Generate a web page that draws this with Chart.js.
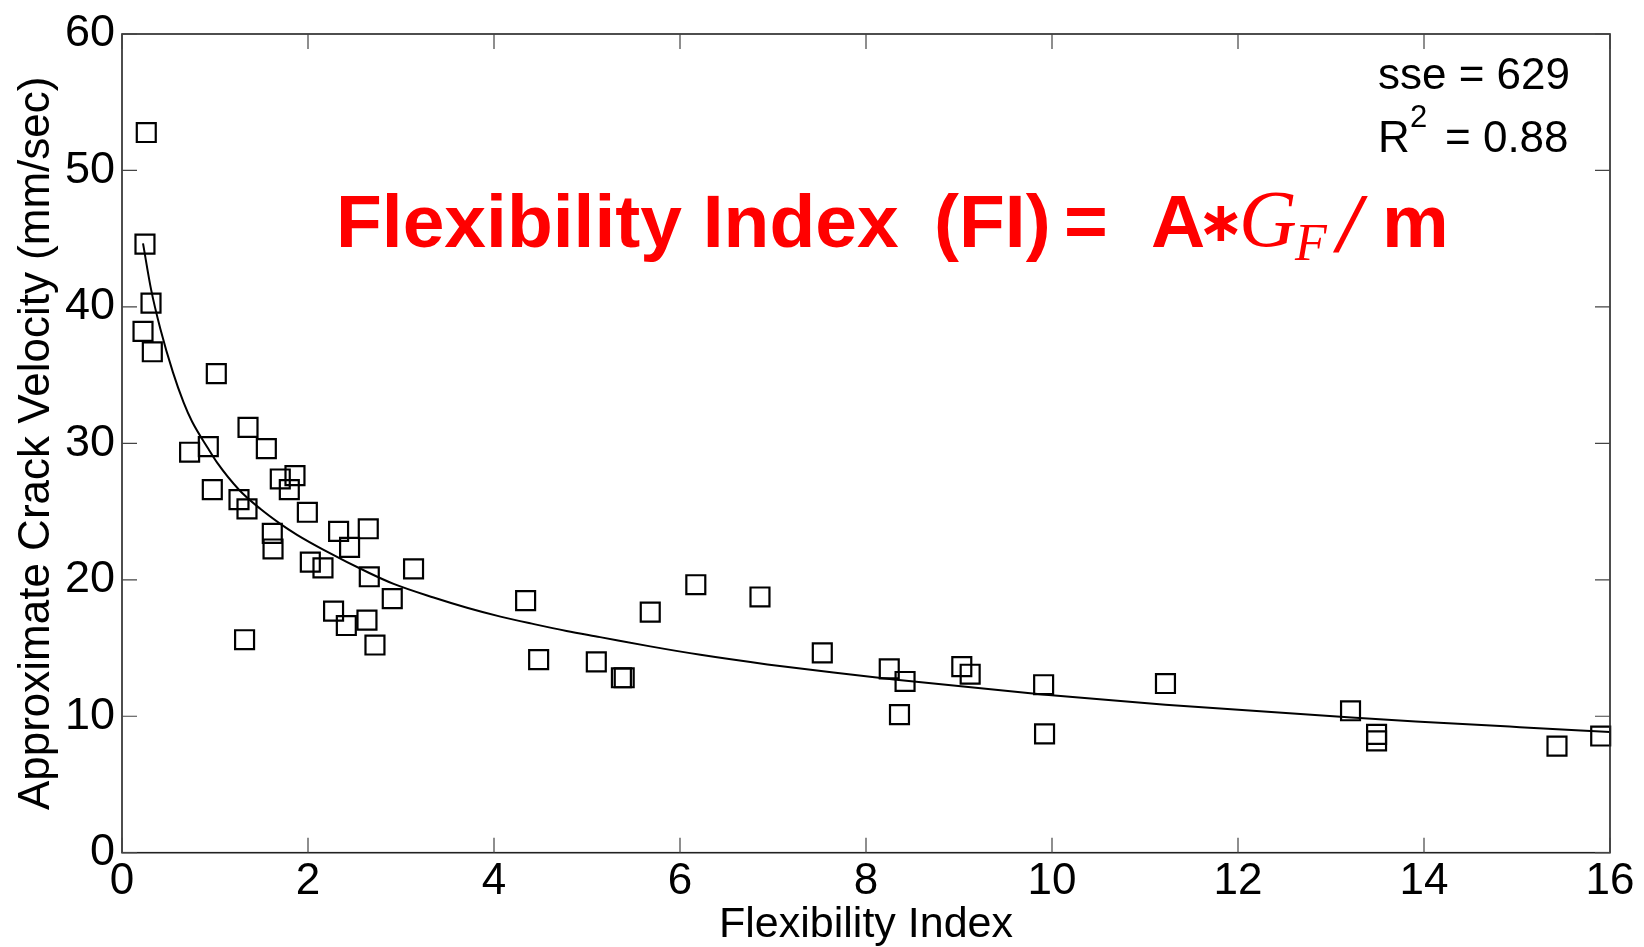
<!DOCTYPE html>
<html>
<head>
<meta charset="utf-8">
<script src="https://cdn.jsdelivr.net/npm/chart.js@4.4.1/dist/chart.umd.min.js"></script>
<style>
  html, body { margin: 0; padding: 0; background: #fff; }
  #wrap { width: 1644px; height: 947px; position: relative; }
</style>
</head>
<body>
<div id="wrap"><canvas id="fiChart"></canvas></div>
<script>
// measured points (Flexibility Index vs approximate crack velocity)
const fiValues = [
  0.261, 0.247, 0.312, 0.226, 0.326, 1.014,
  1.355, 0.727, 0.928, 1.552, 0.971, 1.258, 1.344, 1.702, 1.860, 1.799,
  1.993, 1.616, 1.624, 2.329, 2.648, 2.447, 2.025, 2.161, 2.659, 3.135,
  2.906, 2.275, 2.412, 2.634, 2.720, 1.318,
  4.34, 4.48, 5.10, 5.37, 5.40, 5.68, 6.17, 6.86, 7.53,
  8.25, 8.42, 8.36, 9.03, 9.12, 9.91, 9.92, 11.22, 13.21, 13.49, 13.49, 15.43, 15.90
];
const velocityValues = [
  52.78, 44.60, 40.28, 38.21, 36.71, 35.11,
  31.17, 29.35, 29.76, 29.61, 26.61, 25.88, 25.20, 27.39, 27.63, 26.61,
  24.95, 23.40, 22.26, 23.55, 23.74, 22.38, 21.29, 20.87, 20.22, 20.80,
  18.62, 17.70, 16.65, 17.04, 15.22, 15.61,
  18.47, 14.15, 13.98, 12.82, 12.82, 17.63, 19.64, 18.74, 14.64,
  13.47, 12.55, 10.12, 13.64, 13.08, 12.31, 8.71, 12.40, 10.40, 8.67, 8.19, 7.81, 8.55
];

// fitted curve
const fitX = [0.226, 0.312, 0.412, 0.548, 0.662, 0.753, 0.928, 1.021, 1.258, 1.487, 1.702, 1.882,
  2.168, 2.659, 2.921, 3.35, 3.71, 4.07, 4.43, 4.78, 5.14, 5.68, 6.22, 6.94, 7.65, 8.30,
  9.90, 11.22, 13.22, 13.96, 15.03, 16.0];
const fitY = [44.65, 41.3, 38.4, 35.2, 33.0, 31.6, 29.6, 28.6, 26.6, 25.2, 24.1, 23.3,
  22.2, 20.5, 19.7, 18.7, 17.95, 17.3, 16.75, 16.25, 15.8, 15.12, 14.5, 13.8, 13.2, 12.7,
  11.6, 10.85, 9.9, 9.6, 9.2, 8.85];

const xTicks = [0, 2, 4, 6, 8, 10, 12, 14, 16];
const yTicks = [0, 10, 20, 30, 40, 50, 60];

const fontName = '"Liberation Sans", Arial, sans-serif';
const TICK_LEN = 15;

// box frame, inward ticks and the text annotations
const frameAndText = {
  id: 'frameAndText',
  afterDraw(chart) {
    const {ctx, chartArea: a, scales: {x, y}} = chart;
    ctx.save();
    ctx.strokeStyle = '#222';
    ctx.lineWidth = 1.6;
    ctx.strokeRect(a.left, a.top, a.right - a.left, a.bottom - a.top);

    ctx.lineWidth = 1.2;
    ctx.strokeStyle = '#444';
    ctx.beginPath();
    xTicks.forEach(v => {
      const px = x.getPixelForValue(v);
      ctx.moveTo(px, a.bottom); ctx.lineTo(px, a.bottom - TICK_LEN);
      ctx.moveTo(px, a.top); ctx.lineTo(px, a.top + TICK_LEN);
    });
    yTicks.forEach(v => {
      const py = y.getPixelForValue(v);
      ctx.moveTo(a.left, py); ctx.lineTo(a.left + TICK_LEN, py);
      ctx.moveTo(a.right, py); ctx.lineTo(a.right - TICK_LEN, py);
    });
    ctx.stroke();

    // fit statistics
    ctx.fillStyle = '#000';
    ctx.textBaseline = 'alphabetic';
    ctx.textAlign = 'left';
    ctx.font = '44px ' + fontName;
    ctx.fillText('sse = 629', 1378, 89);
    ctx.fillText('R', 1378, 152);
    ctx.fillText('= 0.88', 1445, 152);
    ctx.font = '31px ' + fontName;
    ctx.fillText('2', 1410, 127);

    // red formula
    ctx.fillStyle = '#ff0000';
    ctx.font = 'bold 75px ' + fontName;
    ctx.fillText('Flexibility Index', 336, 247);
    ctx.fillText('(FI)', 934, 247);
    ctx.fillText('=', 1064, 247);
    ctx.fillText('A', 1151, 247);
    ctx.fillText('m', 1382, 247);
    ctx.textAlign = 'center';
    ctx.textBaseline = 'middle';
    ctx.font = 'bold 56px "DejaVu Sans", sans-serif';
    ctx.fillText('\u2217', 1221, 226);
    ctx.textAlign = 'left';
    ctx.textBaseline = 'alphabetic';
    ctx.font = 'italic 80px "Liberation Serif", serif';
    ctx.fillText('G', 1239, 246);
    ctx.font = 'italic 52px "Liberation Serif", serif';
    ctx.fillText('F', 1295, 260);
    ctx.font = 'bold italic 84px "Liberation Serif", serif';
    ctx.fillText('/', 1338, 252);
    ctx.restore();
  }
};

const scatterData = fiValues.map((v, i) => ({x: v, y: velocityValues[i]}));
const fitData = fitX.map((v, i) => ({x: v, y: fitY[i]}));

const ctx = document.getElementById('fiChart').getContext('2d');
new Chart(ctx, {
  type: 'scatter',
  data: {
    datasets: [
      {
        label: 'fit',
        data: fitData,
        showLine: true,
        borderColor: '#000',
        borderWidth: 2,
        pointRadius: 0,
        cubicInterpolationMode: 'monotone',
        clip: false
      },
      {
        label: 'measured',
        data: scatterData,
        pointStyle: 'rect',
        pointRadius: 13.4,
        pointBorderWidth: 2.2,
        pointBorderColor: '#000',
        pointBackgroundColor: 'rgba(0,0,0,0)',
        clip: false
      }
    ]
  },
  options: {
    responsive: true,
    maintainAspectRatio: false,
    devicePixelRatio: 1,
    animation: false,
    layout: { padding: { left: 0, right: 34, top: 27, bottom: 0 } },
    plugins: { legend: { display: false }, tooltip: { enabled: false } },
    scales: {
      x: {
        type: 'linear',
        min: 0, max: 16,
        grid: { display: false, drawTicks: false },
        border: { display: false },
        afterBuildTicks: s => { s.ticks = xTicks.map(v => ({value: v})); },
        afterFit: s => { s.height = 94.3; },
        ticks: { color: '#000', padding: 3, font: { family: fontName, size: 44, lineHeight: 1.2 } },
        title: {
          display: true, text: 'Flexibility Index', color: '#000',
          padding: { top: 0, bottom: 0.5 },
          font: { family: fontName, size: 43, lineHeight: 1 }
        }
      },
      y: {
        type: 'linear',
        min: 0, max: 60,
        grid: { display: false, drawTicks: false },
        border: { display: false },
        afterBuildTicks: s => { s.ticks = yTicks.map(v => ({value: v})); },
        afterFit: s => { s.width = 122; },
        ticks: { color: '#000', padding: 7, font: { family: fontName, size: 45 } },
        title: {
          display: true, text: 'Approximate Crack Velocity (mm/sec)', color: '#000',
          padding: { top: 10, bottom: 0 },
          font: { family: fontName, size: 44, lineHeight: 1.2 }
        }
      }
    }
  },
  plugins: [frameAndText]
});
</script>
</body>
</html>
